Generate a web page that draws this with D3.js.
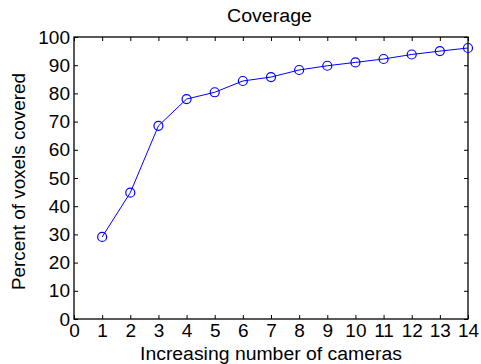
<!DOCTYPE html>
<html lang="en">
<head>
  <meta charset="UTF-8">
  <title>Coverage</title>
  <script src="https://cdn.jsdelivr.net/npm/d3@7"></script>
  <style>
    body { margin: 0; background: #fff; }
    svg text { font-family: Arial, "Liberation Sans", sans-serif; fill: #000; }
  </style>
</head>
<body>
  <svg class="svg"></svg>
  <script>
    const cameras = [1, 2, 3, 4, 5, 6, 7, 8, 9, 10, 11, 12, 13, 14];
    const coverage = [29.1, 44.8, 68.5, 78.0, 80.4, 84.4, 85.8, 88.3, 89.8, 91.0, 92.2, 93.8, 95.0, 96.1];
    const xTicks = [0, 1, 2, 3, 4, 5, 6, 7, 8, 9, 10, 11, 12, 13, 14];
    const yTicks = [0, 10, 20, 30, 40, 50, 60, 70, 80, 90, 100];

    const w = 481;
    const h = 364;
    const padLeft = 74, padRight = 468, padTop = 37, padBottom = 319;

    const svg = d3.select('.svg')
      .attr('width', w)
      .attr('height', h);

    const xScale = d3.scaleLinear().domain([0, 14]).range([padLeft, padRight]);
    const yScale = d3.scaleLinear().domain([0, 100]).range([padBottom, padTop]);

    // box
    svg.append('rect')
      .attr('x', padLeft).attr('y', padTop)
      .attr('width', padRight - padLeft).attr('height', padBottom - padTop)
      .attr('fill', 'none').attr('stroke', '#000').attr('stroke-width', 1.3);

    // bottom axis, ticks point inward
    const xAxis = svg.append('g')
      .attr('transform', 'translate(0,' + padBottom + ')')
      .call(d3.axisBottom(xScale).tickValues(xTicks).tickSize(-4).tickPadding(5));
    xAxis.select('.domain').remove();
    xAxis.selectAll('text').attr('font-size', 19).attr('dy', '0.71em');

    const yAxis = svg.append('g')
      .attr('transform', 'translate(' + padLeft + ',0)')
      .call(d3.axisLeft(yScale).tickValues(yTicks).tickSize(-4).tickPadding(4));
    yAxis.select('.domain').remove();
    yAxis.selectAll('text').attr('font-size', 19);

    // mirror ticks on top and right
    svg.append('g')
      .attr('transform', 'translate(0,' + padTop + ')')
      .call(d3.axisTop(xScale).tickValues(xTicks).tickSize(-4).tickFormat(''))
      .select('.domain').remove();
    svg.append('g')
      .attr('transform', 'translate(' + padRight + ',0)')
      .call(d3.axisRight(yScale).tickValues(yTicks).tickSize(-4).tickFormat(''))
      .select('.domain').remove();

    svg.selectAll('.tick line').attr('stroke', '#000');
    svg.selectAll('.tick text').attr('fill', '#000');

    // series
    const line = d3.line()
      .x((d, i) => xScale(cameras[i]))
      .y(d => yScale(d));

    svg.append('path')
      .datum(coverage)
      .attr('d', line)
      .attr('fill', 'none')
      .attr('stroke', '#0000ff')
      .attr('stroke-width', 1);

    svg.selectAll('circle')
      .data(coverage)
      .enter()
      .append('circle')
      .attr('cx', (d, i) => xScale(cameras[i]))
      .attr('cy', d => yScale(d))
      .attr('r', 4.5)
      .attr('fill', 'none')
      .attr('stroke', '#0000ff')
      .attr('stroke-width', 1.2);

    // titles (widths matched to the picture)
    svg.append('text')
      .attr('x', 227).attr('y', 22)
      .attr('font-size', 18)
      .attr('textLength', 85).attr('lengthAdjust', 'spacingAndGlyphs')
      .text('Coverage');

    svg.append('text')
      .attr('x', 140).attr('y', 360)
      .attr('font-size', 18)
      .attr('textLength', 262).attr('lengthAdjust', 'spacingAndGlyphs')
      .text('Increasing number of cameras');

    svg.append('text')
      .attr('transform', 'translate(25,290) rotate(-90)')
      .attr('font-size', 18)
      .attr('textLength', 217).attr('lengthAdjust', 'spacingAndGlyphs')
      .text('Percent of voxels covered');
  </script>
</body>
</html>
